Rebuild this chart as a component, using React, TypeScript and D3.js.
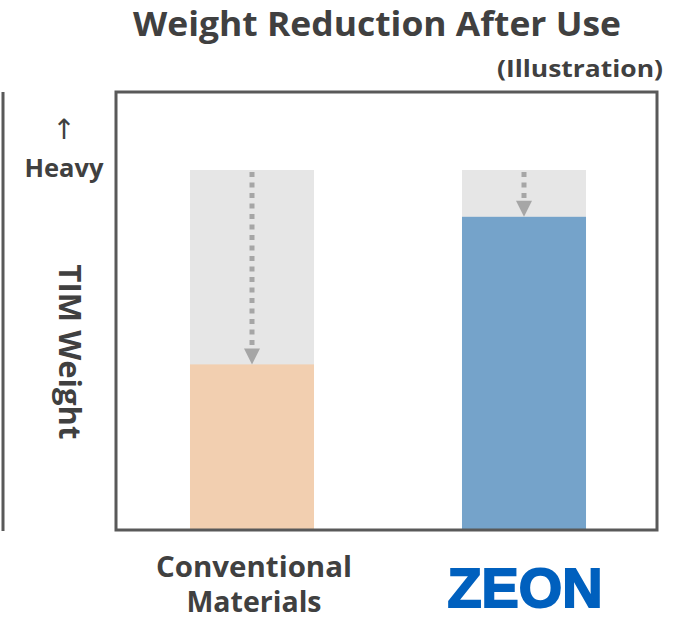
import React from "react";
import * as d3 from "d3";

// Categories and relative weights (initial weight = 100)
const categories = ["Conventional Materials", "ZEON"];
const initialWeight = [100, 100];
const afterUseWeight = [46, 87];
const categoryLabelLines = [["Conventional", "Materials"], []];

const W = 692;
const H = 621;
const FONT = "'Open Sans', 'Noto Sans', sans-serif";
const TEXT = "#404040";

export default function App() {
  const box = { x0: 116, x1: 657, y0: 92, y1: 530 };

  const x = d3
    .scaleBand<string>()
    .domain(categories)
    .range([box.x0, box.x0 + 544])
    .paddingInner(0.544)
    .paddingOuter(0.272);

  const y = d3.scaleLinear().domain([0, 100]).range([box.y1, 170]);

  const colors = ["#F2CFB0", "#75A3CA"];

  return (
    <svg
      width={W}
      height={H}
      style={{ position: "absolute", left: 0, top: 0, background: "#fff" }}
      fontFamily={FONT}
    >
      {/* title */}
      <text
        x={377}
        y={36}
        textAnchor="middle"
        fontSize={34}
        fontWeight={700}
        fill={TEXT}
        textLength={488}
        lengthAdjust="spacingAndGlyphs"
      >
        Weight Reduction After Use
      </text>
      <text
        x={663}
        y={77}
        textAnchor="end"
        fontSize={23}
        fontWeight={700}
        fill={TEXT}
        textLength={166}
        lengthAdjust="spacingAndGlyphs"
      >
        (Illustration)
      </text>

      {/* left rule */}
      <line x1={3} x2={3} y1={92} y2={531} stroke="#595959" strokeWidth={3} />

      {/* y-axis annotation */}
      <text x={64} y={139} textAnchor="middle" fontSize={28} fill={TEXT} fontFamily="'DejaVu Sans', sans-serif">
        ↑
      </text>
      <text
        x={64}
        y={177}
        textAnchor="middle"
        fontSize={25}
        fontWeight={700}
        fill={TEXT}
        textLength={79}
        lengthAdjust="spacingAndGlyphs"
      >
        Heavy
      </text>
      <text
        transform="translate(59,352) rotate(90)"
        textAnchor="middle"
        fontSize={30}
        fontWeight={700}
        fill={TEXT}
        textLength={175}
        lengthAdjust="spacingAndGlyphs"
      >
        TIM Weight
      </text>

      {/* bars */}
      {categories.map((c, i) => {
        const bx = x(c)!;
        const bw = x.bandwidth();
        const cx = bx + bw / 2;
        const yTop = y(initialWeight[i]);
        const yAfter = y(afterUseWeight[i]);
        const headH = 15;
        return (
          <g key={c}>
            <rect x={bx} y={yTop} width={bw} height={y(0) - yTop} fill="#E6E6E6" />
            <rect x={bx} y={yAfter} width={bw} height={y(0) - yAfter} fill={colors[i]} />
            <line
              x1={cx}
              x2={cx}
              y1={yTop + 2}
              y2={yAfter - headH - 1}
              stroke="#A6A6A6"
              strokeWidth={5}
              strokeDasharray="5 5.5"
            />
            <path
              d={`M${cx - 8},${yAfter - headH - 1} L${cx + 8},${yAfter - headH - 1} L${cx},${yAfter} Z`}
              fill="#A6A6A6"
            />
          </g>
        );
      })}

      {/* plot frame */}
      <rect
        x={box.x0}
        y={box.y0}
        width={box.x1 - box.x0}
        height={box.y1 - box.y0}
        fill="none"
        stroke="#595959"
        strokeWidth={3}
      />

      {/* category labels */}
      {categoryLabelLines[0].map((line, j) => (
        <text
          key={line}
          x={x(categories[0])! + x.bandwidth() / 2 + 2}
          y={577 + j * 35}
          textAnchor="middle"
          fontSize={28}
          fontWeight={700}
          fill={TEXT}
          textLength={j === 0 ? 196 : 135}
          lengthAdjust="spacingAndGlyphs"
        >
          {line}
        </text>
      ))}
      <text
        x={x(categories[1])! + x.bandwidth() / 2 + 1}
        y={607}
        textAnchor="middle"
        fontSize={56}
        fontWeight={900}
        fill="#0060BE"
        stroke="#0060BE"
        strokeWidth={2}
        fontFamily="'Liberation Sans', Arial, sans-serif"
        textLength={155}
        lengthAdjust="spacingAndGlyphs"
      >
        {categories[1]}
      </text>
    </svg>
  );
}
